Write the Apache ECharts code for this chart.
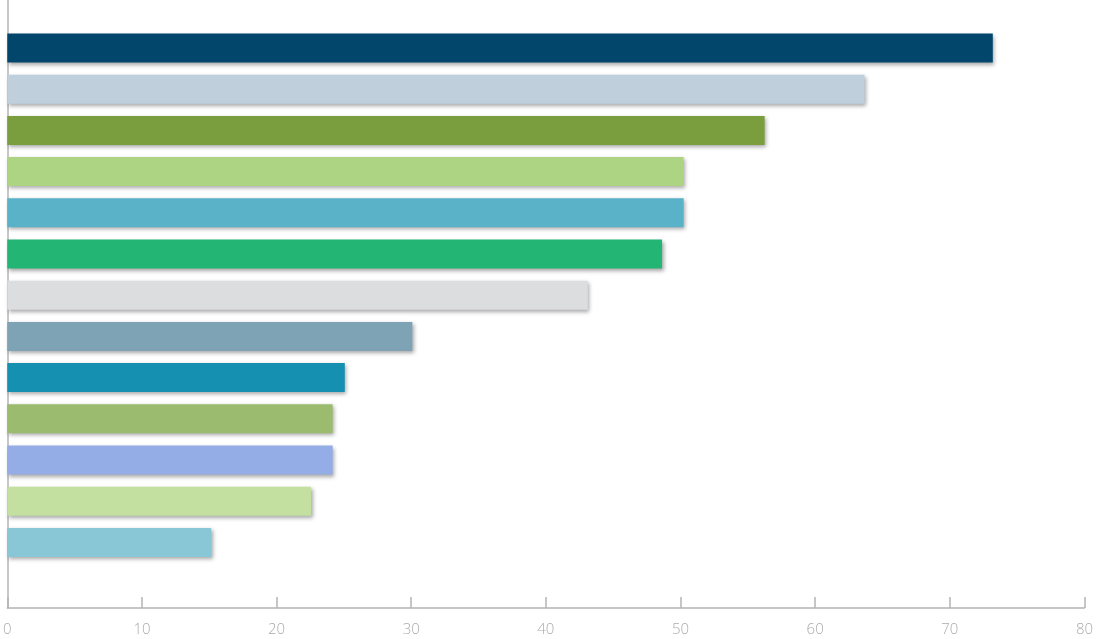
<!DOCTYPE html>
<html>
<head>
<meta charset="utf-8">
<script src="https://cdn.jsdelivr.net/npm/echarts@6/dist/echarts.min.js"></script>
<style>
html,body{margin:0;padding:0;background:#fff;}
#chart{width:1096px;height:639px;}
</style>
</head>
<body>
<div id="chart"></div>
<script>
const categories = ['A','B','C','D','E','F','G','H','I','J','K','L','M'];
const values = [73, 63.5, 56.1, 50.1, 50.1, 48.5, 43, 30, 25, 24.1, 24.1, 22.5, 15.1];
const barColors = ['#02476b','#bfd0dc','#7a9e3e','#acd483','#5ab2c8','#22b573','#dcdddf','#7ea3b5','#1690b0','#9bbb6f','#94ade6','#c3e0a0','#89c7d6'];
const xTicks = [0, 10, 20, 30, 40, 50, 60, 70, 80];

const chart = echarts.init(document.getElementById('chart'), null, {renderer: 'canvas'});
const axisGray = '#b4b4b4';
chart.setOption({
  animation: false,
  grid: [
    {left: 7.3, right: 8.7, top: 0, bottom: 31, containLabel: false},
    {left: 7.3, right: 8.7, top: 27.4, height: 535.6, containLabel: false}
  ],
  xAxis: [
    {
      gridIndex: 0, type: 'value', min: xTicks[0], max: xTicks[xTicks.length - 1], interval: 10,
      axisLine: {show: true, lineStyle: {color: axisGray, width: 1.5}},
      axisTick: {show: true, inside: true, length: 11, lineStyle: {color: axisGray, width: 1.5}},
      axisLabel: {show: true, color: '#ababab', fontSize: 15, fontFamily: 'Open Sans', fontWeight: 300, margin: 14},
      splitLine: {show: false}
    },
    {
      gridIndex: 1, type: 'value', min: 0, max: 80, show: false
    }
  ],
  yAxis: [
    {
      gridIndex: 0, type: 'value', min: 0, max: 1,
      axisLine: {show: true, lineStyle: {color: axisGray, width: 1.5}},
      axisTick: {show: false}, axisLabel: {show: false}, splitLine: {show: false}
    },
    {
      gridIndex: 1, type: 'category', data: categories, inverse: true, show: false
    }
  ],
  series: [{
    type: 'bar',
    xAxisIndex: 1, yAxisIndex: 1,
    barWidth: 29,
    data: values.map((v, i) => ({
      value: v,
      itemStyle: {
        color: barColors[i],
        shadowColor: 'rgba(0,0,0,0.35)',
        shadowBlur: 4,
        shadowOffsetX: 1.5,
        shadowOffsetY: 2
      }
    }))
  }]
});
</script>
</body>
</html>
